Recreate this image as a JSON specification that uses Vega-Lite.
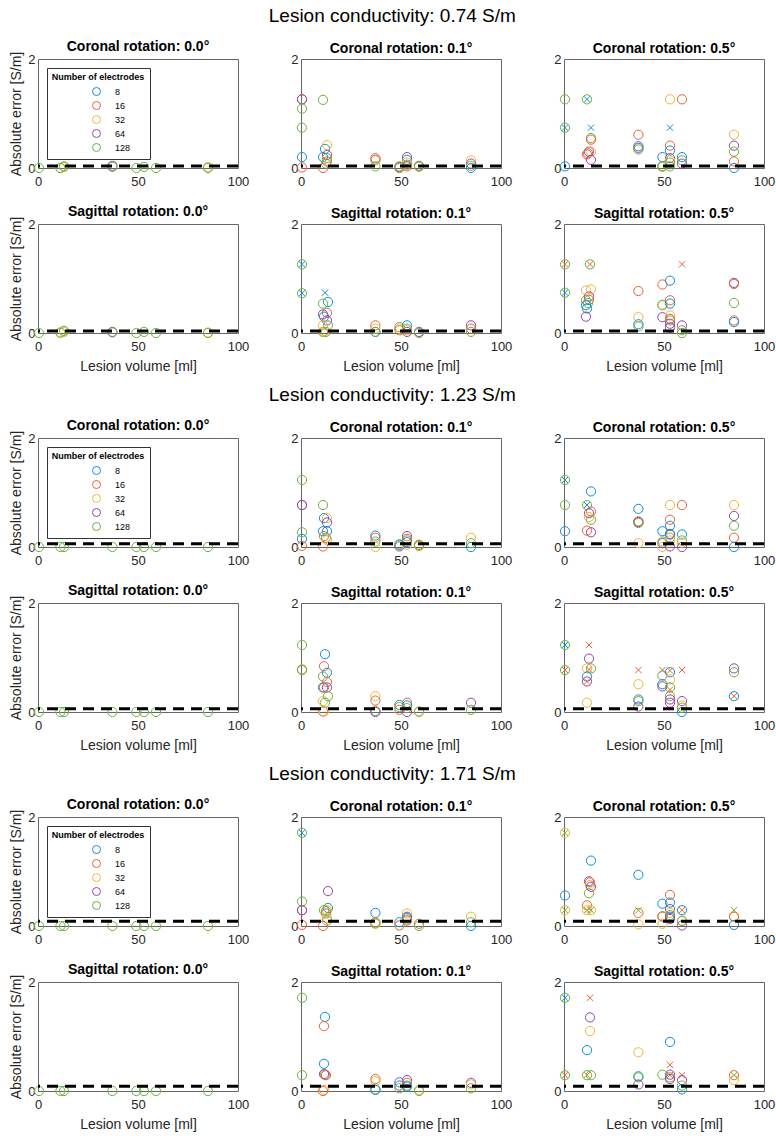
{
"$schema":"https://vega.github.io/schema/vega-lite/v6.json",
"padding":{"left":9,"top":6,"right":2,"bottom":2},
"background":"white",
"datasets":{
"t":[{"s":1,"e":0.037},{"s":2,"e":0.0615},{"s":3,"e":0.0855}],
"d":[
{"p":"1C0","n":32,"v":11.2,"e":0.0},{"p":"1C0","n":32,"v":13,"e":0.02},{"p":"1C0","n":64,"v":37.2,"e":0.04},{"p":"1C0","n":32,"v":85,"e":0.02},
{"p":"1C0","n":128,"v":0.5,"e":0.0},{"p":"1C0","n":128,"v":11.2,"e":0.0},{"p":"1C0","n":128,"v":13,"e":0.03},{"p":"1C0","n":128,"v":37.2,"e":0.02},{"p":"1C0","n":128,"v":49.2,"e":0.0},{"p":"1C0","n":128,"v":53,"e":0.02},{"p":"1C0","n":128,"v":59,"e":0.0},{"p":"1C0","n":128,"v":85,"e":0.0},
{"p":"1S0","n":32,"v":11.2,"e":0.0},{"p":"1S0","n":32,"v":13,"e":0.02},{"p":"1S0","n":64,"v":37.2,"e":0.02},{"p":"1S0","n":32,"v":85,"e":0.01},
{"p":"1S0","n":128,"v":0.5,"e":0.0},{"p":"1S0","n":128,"v":11.2,"e":0.01},{"p":"1S0","n":128,"v":13,"e":0.04},{"p":"1S0","n":128,"v":37.2,"e":0.01},{"p":"1S0","n":128,"v":49.2,"e":0.0},{"p":"1S0","n":128,"v":53,"e":0.02},{"p":"1S0","n":128,"v":59,"e":0.0},{"p":"1S0","n":128,"v":85,"e":0.0},
{"p":"1C1","n":16,"v":0.5,"e":1.26},{"p":"1C1","n":64,"v":0.5,"e":1.26},{"p":"1C1","n":128,"v":0.5,"e":1.09},{"p":"1C1","n":128,"v":0.4,"e":0.74},{"p":"1C1","n":8,"v":0.5,"e":0.2},{"p":"1C1","n":16,"v":0.5,"e":0.01},
{"p":"1C1","n":128,"v":11,"e":1.25},{"p":"1C1","n":8,"v":11,"e":0.2},{"p":"1C1","n":16,"v":11,"e":0.0},{"p":"1C1","n":8,"v":12,"e":0.35},{"p":"1C1","n":64,"v":13,"e":0.24},{"p":"1C1","n":32,"v":13,"e":0.42},{"p":"1C1","n":128,"v":13,"e":0.18},{"p":"1C1","n":16,"v":13,"e":0.12},{"p":"1C1","n":128,"v":12.5,"e":0.08},
{"p":"1C1","n":16,"v":37.2,"e":0.18},{"p":"1C1","n":64,"v":37.2,"e":0.15},{"p":"1C1","n":32,"v":37.2,"e":0.14},{"p":"1C1","n":128,"v":37.2,"e":0.03},
{"p":"1C1","n":8,"v":49.2,"e":0.02},{"p":"1C1","n":128,"v":49.2,"e":0.03},{"p":"1C1","n":16,"v":49.2,"e":0.0},
{"p":"1C1","n":64,"v":53,"e":0.2},{"p":"1C1","n":8,"v":53,"e":0.15},{"p":"1C1","n":32,"v":53,"e":0.1},{"p":"1C1","n":128,"v":53,"e":0.06},{"p":"1C1","n":16,"v":53,"e":0.03},
{"p":"1C1","n":64,"v":59,"e":0.04},{"p":"1C1","n":32,"v":59,"e":0.02},{"p":"1C1","n":128,"v":59,"e":0.03},
{"p":"1C1","n":32,"v":85,"e":0.14},{"p":"1C1","n":64,"v":85,"e":0.08},{"p":"1C1","n":128,"v":85,"e":0.04},{"p":"1C1","n":8,"v":85,"e":0.0},
{"p":"1C5","n":128,"v":0.5,"e":1.26},{"p":"1C5","n":128,"v":0.5,"e":0.74},{"p":"1C5","n":8,"v":0.5,"e":0.74,"m":"x"},{"p":"1C5","n":8,"v":0.5,"e":0.03},
{"p":"1C5","n":128,"v":11.5,"e":1.26},{"p":"1C5","n":8,"v":11.5,"e":1.26,"m":"x"},{"p":"1C5","n":16,"v":11.5,"e":0.25},{"p":"1C5","n":16,"v":12,"e":0.27},{"p":"1C5","n":64,"v":12.5,"e":0.3},
{"p":"1C5","n":8,"v":13.5,"e":0.74,"m":"x"},{"p":"1C5","n":32,"v":13.5,"e":0.3},{"p":"1C5","n":128,"v":13.5,"e":0.55},{"p":"1C5","n":16,"v":13.5,"e":0.52},{"p":"1C5","n":64,"v":13.5,"e":0.15},
{"p":"1C5","n":16,"v":37.2,"e":0.61},{"p":"1C5","n":8,"v":37.2,"e":0.4},{"p":"1C5","n":64,"v":37.2,"e":0.37},{"p":"1C5","n":128,"v":37.2,"e":0.34},
{"p":"1C5","n":8,"v":49.2,"e":0.2},{"p":"1C5","n":64,"v":49.2,"e":0.03},{"p":"1C5","n":32,"v":49.2,"e":0.02},{"p":"1C5","n":128,"v":49.2,"e":0.03},
{"p":"1C5","n":32,"v":53,"e":1.26},{"p":"1C5","n":8,"v":53,"e":0.74,"m":"x"},{"p":"1C5","n":16,"v":53,"e":0.41},{"p":"1C5","n":8,"v":53,"e":0.32},{"p":"1C5","n":64,"v":53,"e":0.18},{"p":"1C5","n":32,"v":53,"e":0.14},{"p":"1C5","n":128,"v":53,"e":0.1},{"p":"1C5","n":128,"v":53,"e":0.03},
{"p":"1C5","n":16,"v":59,"e":1.26},{"p":"1C5","n":8,"v":59,"e":0.2},{"p":"1C5","n":128,"v":59,"e":0.14},{"p":"1C5","n":64,"v":59,"e":0.08},
{"p":"1C5","n":32,"v":85,"e":0.61},{"p":"1C5","n":64,"v":85,"e":0.41},{"p":"1C5","n":128,"v":85,"e":0.3},{"p":"1C5","n":16,"v":85,"e":0.12},{"p":"1C5","n":8,"v":85,"e":0.0},
{"p":"1S1","n":128,"v":0.5,"e":1.26},{"p":"1S1","n":8,"v":0.5,"e":1.26,"m":"x"},{"p":"1S1","n":128,"v":0.5,"e":0.73},{"p":"1S1","n":8,"v":0.5,"e":0.73,"m":"x"},
{"p":"1S1","n":8,"v":12,"e":0.74,"m":"x"},{"p":"1S1","n":8,"v":13.5,"e":0.57},{"p":"1S1","n":128,"v":11,"e":0.54},{"p":"1S1","n":16,"v":13,"e":0.37},{"p":"1S1","n":64,"v":11,"e":0.34},{"p":"1S1","n":8,"v":11.5,"e":0.3},{"p":"1S1","n":64,"v":13,"e":0.23},{"p":"1S1","n":32,"v":11,"e":0.14},{"p":"1S1","n":128,"v":13.5,"e":0.14},{"p":"1S1","n":16,"v":11,"e":0.02},{"p":"1S1","n":32,"v":11.5,"e":0.02},{"p":"1S1","n":128,"v":12.5,"e":0.02},
{"p":"1S1","n":16,"v":37.2,"e":0.14},{"p":"1S1","n":32,"v":37.2,"e":0.08},{"p":"1S1","n":8,"v":37.2,"e":0.02},{"p":"1S1","n":128,"v":37.2,"e":0.02},
{"p":"1S1","n":128,"v":49.2,"e":0.11},{"p":"1S1","n":32,"v":49.2,"e":0.08},{"p":"1S1","n":16,"v":49.2,"e":0.05},
{"p":"1S1","n":8,"v":53,"e":0.14},{"p":"1S1","n":128,"v":53,"e":0.08},{"p":"1S1","n":32,"v":53,"e":0.05},{"p":"1S1","n":64,"v":53,"e":0.02},
{"p":"1S1","n":64,"v":59,"e":0.02},{"p":"1S1","n":128,"v":59,"e":0.0},
{"p":"1S1","n":64,"v":85,"e":0.14},{"p":"1S1","n":16,"v":85,"e":0.08},{"p":"1S1","n":128,"v":85,"e":0.02},
{"p":"1S5","n":128,"v":0.5,"e":1.26},{"p":"1S5","n":16,"v":0.5,"e":1.26,"m":"x"},{"p":"1S5","n":128,"v":0.5,"e":0.74},{"p":"1S5","n":8,"v":0.5,"e":0.74,"m":"x"},
{"p":"1S5","n":128,"v":13,"e":1.26},{"p":"1S5","n":16,"v":13,"e":1.26,"m":"x"},{"p":"1S5","n":32,"v":11,"e":0.78},{"p":"1S5","n":32,"v":13.5,"e":0.8},{"p":"1S5","n":64,"v":12.5,"e":0.67},{"p":"1S5","n":16,"v":12.5,"e":0.61},{"p":"1S5","n":128,"v":11,"e":0.6},{"p":"1S5","n":128,"v":12,"e":0.55},{"p":"1S5","n":8,"v":11,"e":0.51},{"p":"1S5","n":8,"v":11.5,"e":0.45},{"p":"1S5","n":64,"v":11,"e":0.3},
{"p":"1S5","n":16,"v":37.2,"e":0.77},{"p":"1S5","n":32,"v":37.2,"e":0.29},{"p":"1S5","n":8,"v":37.2,"e":0.16},{"p":"1S5","n":128,"v":37.2,"e":0.12},
{"p":"1S5","n":16,"v":49.2,"e":0.89},{"p":"1S5","n":32,"v":49.2,"e":0.52},{"p":"1S5","n":128,"v":49.2,"e":0.51},{"p":"1S5","n":64,"v":49.2,"e":0.29},
{"p":"1S5","n":8,"v":53,"e":0.96},{"p":"1S5","n":16,"v":53,"e":0.6},{"p":"1S5","n":8,"v":53,"e":0.54},{"p":"1S5","n":32,"v":53,"e":0.32},{"p":"1S5","n":16,"v":53,"e":0.26},{"p":"1S5","n":128,"v":53,"e":0.23},{"p":"1S5","n":64,"v":53,"e":0.17},{"p":"1S5","n":64,"v":53,"e":0.1},
{"p":"1S5","n":16,"v":59,"e":1.26,"m":"x"},{"p":"1S5","n":64,"v":59,"e":0.14},{"p":"1S5","n":128,"v":59,"e":0.05},{"p":"1S5","n":128,"v":59,"e":0.0},
{"p":"1S5","n":64,"v":85,"e":0.92},{"p":"1S5","n":16,"v":85,"e":0.9},{"p":"1S5","n":128,"v":85,"e":0.55},{"p":"1S5","n":16,"v":85,"e":0.23},{"p":"1S5","n":8,"v":85,"e":0.2},
{"p":"2C0","n":128,"v":0.5,"e":0.0},{"p":"2C0","n":128,"v":11.2,"e":0.0},{"p":"2C0","n":128,"v":13,"e":0.0},{"p":"2C0","n":128,"v":37.2,"e":0.0},{"p":"2C0","n":128,"v":49.2,"e":0.0},{"p":"2C0","n":128,"v":53,"e":0.0},{"p":"2C0","n":128,"v":59,"e":0.0},{"p":"2C0","n":128,"v":85,"e":0.0},
{"p":"2S0","n":128,"v":0.5,"e":0.0},{"p":"2S0","n":128,"v":11.2,"e":0.0},{"p":"2S0","n":128,"v":13,"e":0.0},{"p":"2S0","n":128,"v":37.2,"e":0.0},{"p":"2S0","n":128,"v":49.2,"e":0.0},{"p":"2S0","n":128,"v":53,"e":0.0},{"p":"2S0","n":128,"v":59,"e":0.0},{"p":"2S0","n":128,"v":85,"e":0.0},
{"p":"2C1","n":128,"v":0.5,"e":1.23},{"p":"2C1","n":16,"v":0.5,"e":0.77},{"p":"2C1","n":64,"v":0.5,"e":0.77},{"p":"2C1","n":128,"v":0.5,"e":0.27},{"p":"2C1","n":8,"v":0.5,"e":0.15},{"p":"2C1","n":16,"v":0.5,"e":0.02},
{"p":"2C1","n":128,"v":11,"e":0.77},{"p":"2C1","n":8,"v":11.5,"e":0.53},{"p":"2C1","n":32,"v":13,"e":0.53},{"p":"2C1","n":64,"v":13,"e":0.45},{"p":"2C1","n":8,"v":11,"e":0.29},{"p":"2C1","n":8,"v":13,"e":0.29},{"p":"2C1","n":16,"v":11.5,"e":0.2},{"p":"2C1","n":128,"v":12.5,"e":0.17},{"p":"2C1","n":32,"v":13,"e":0.13},{"p":"2C1","n":16,"v":11,"e":0.01},
{"p":"2C1","n":8,"v":37.2,"e":0.21},{"p":"2C1","n":16,"v":37.2,"e":0.17},{"p":"2C1","n":128,"v":37.2,"e":0.1},{"p":"2C1","n":32,"v":37.2,"e":0.0},
{"p":"2C1","n":8,"v":49.2,"e":0.04},{"p":"2C1","n":64,"v":49.2,"e":0.01},{"p":"2C1","n":128,"v":49.2,"e":0.05},
{"p":"2C1","n":64,"v":53,"e":0.2},{"p":"2C1","n":16,"v":53,"e":0.15},{"p":"2C1","n":128,"v":53,"e":0.12},{"p":"2C1","n":8,"v":53,"e":0.09},{"p":"2C1","n":32,"v":53,"e":0.04},
{"p":"2C1","n":32,"v":59,"e":0.04},{"p":"2C1","n":16,"v":59,"e":0.04},{"p":"2C1","n":128,"v":59,"e":0.02},
{"p":"2C1","n":32,"v":85,"e":0.17},{"p":"2C1","n":128,"v":85,"e":0.07},{"p":"2C1","n":8,"v":85,"e":0.0},
{"p":"2C5","n":128,"v":0.5,"e":1.23},{"p":"2C5","n":8,"v":0.5,"e":1.23,"m":"x"},{"p":"2C5","n":128,"v":0.5,"e":0.77},{"p":"2C5","n":8,"v":0.5,"e":0.29},
{"p":"2C5","n":8,"v":13.5,"e":1.02},{"p":"2C5","n":128,"v":11.5,"e":0.77},{"p":"2C5","n":8,"v":11.5,"e":0.77,"m":"x"},{"p":"2C5","n":64,"v":12.5,"e":0.62},{"p":"2C5","n":16,"v":13.5,"e":0.65},{"p":"2C5","n":32,"v":12.5,"e":0.55},{"p":"2C5","n":128,"v":13.5,"e":0.5},{"p":"2C5","n":16,"v":11.5,"e":0.3},{"p":"2C5","n":64,"v":13.5,"e":0.27},
{"p":"2C5","n":8,"v":37.2,"e":0.7},{"p":"2C5","n":16,"v":37.2,"e":0.47},{"p":"2C5","n":64,"v":37.2,"e":0.46},{"p":"2C5","n":128,"v":37.2,"e":0.44},{"p":"2C5","n":32,"v":37.2,"e":0.07},
{"p":"2C5","n":8,"v":49.2,"e":0.29},{"p":"2C5","n":64,"v":49.2,"e":0.07},{"p":"2C5","n":128,"v":49.2,"e":0.1},{"p":"2C5","n":32,"v":49.2,"e":0.0},
{"p":"2C5","n":32,"v":53,"e":0.77},{"p":"2C5","n":16,"v":53,"e":0.5},{"p":"2C5","n":8,"v":53,"e":0.39},{"p":"2C5","n":8,"v":53,"e":0.24},{"p":"2C5","n":64,"v":53,"e":0.23},{"p":"2C5","n":128,"v":53,"e":0.17},{"p":"2C5","n":32,"v":53,"e":0.12},{"p":"2C5","n":64,"v":53,"e":0.01},
{"p":"2C5","n":16,"v":59,"e":0.77},{"p":"2C5","n":8,"v":59,"e":0.23},{"p":"2C5","n":128,"v":59,"e":0.12},{"p":"2C5","n":32,"v":59,"e":0.08},{"p":"2C5","n":64,"v":59,"e":0.0},
{"p":"2C5","n":32,"v":85,"e":0.77},{"p":"2C5","n":64,"v":85,"e":0.57},{"p":"2C5","n":128,"v":85,"e":0.39},{"p":"2C5","n":16,"v":85,"e":0.17},{"p":"2C5","n":8,"v":85,"e":0.0},
{"p":"2S1","n":128,"v":0.5,"e":1.23},{"p":"2S1","n":16,"v":0.5,"e":0.77},{"p":"2S1","n":128,"v":0.5,"e":0.78},
{"p":"2S1","n":8,"v":12,"e":1.06},{"p":"2S1","n":16,"v":11.5,"e":0.84},{"p":"2S1","n":8,"v":13,"e":0.72},{"p":"2S1","n":128,"v":11,"e":0.65},{"p":"2S1","n":16,"v":13,"e":0.55},{"p":"2S1","n":8,"v":11,"e":0.45},{"p":"2S1","n":64,"v":13,"e":0.45},{"p":"2S1","n":16,"v":11.5,"e":0.45},{"p":"2S1","n":128,"v":13.5,"e":0.29},{"p":"2S1","n":32,"v":11,"e":0.2},{"p":"2S1","n":128,"v":12,"e":0.17},{"p":"2S1","n":16,"v":11,"e":0.01},{"p":"2S1","n":32,"v":11.5,"e":0.01},
{"p":"2S1","n":32,"v":37.2,"e":0.29},{"p":"2S1","n":16,"v":37.2,"e":0.21},{"p":"2S1","n":128,"v":37.2,"e":0.02},{"p":"2S1","n":64,"v":37.2,"e":0.0},
{"p":"2S1","n":8,"v":49.2,"e":0.13},{"p":"2S1","n":128,"v":49.2,"e":0.09},{"p":"2S1","n":16,"v":49.2,"e":0.04},
{"p":"2S1","n":16,"v":53,"e":0.17},{"p":"2S1","n":8,"v":53,"e":0.12},{"p":"2S1","n":128,"v":53,"e":0.07},{"p":"2S1","n":64,"v":53,"e":0.0},
{"p":"2S1","n":32,"v":59,"e":0.0},{"p":"2S1","n":128,"v":59,"e":0.01},
{"p":"2S1","n":64,"v":85,"e":0.17},{"p":"2S1","n":128,"v":85,"e":0.04},
{"p":"2S5","n":128,"v":0.5,"e":1.23},{"p":"2S5","n":8,"v":0.5,"e":1.23,"m":"x"},{"p":"2S5","n":128,"v":0.5,"e":0.77},{"p":"2S5","n":16,"v":0.5,"e":0.77,"m":"x"},
{"p":"2S5","n":16,"v":12.5,"e":1.23,"m":"x"},{"p":"2S5","n":64,"v":12.5,"e":0.98},{"p":"2S5","n":128,"v":13.5,"e":0.8},{"p":"2S5","n":32,"v":11.5,"e":0.8},{"p":"2S5","n":16,"v":12.5,"e":0.78,"m":"x"},{"p":"2S5","n":8,"v":11.5,"e":0.65},{"p":"2S5","n":64,"v":11.5,"e":0.56},{"p":"2S5","n":16,"v":11.5,"e":0.56,"m":"x"},{"p":"2S5","n":32,"v":11.5,"e":0.17},
{"p":"2S5","n":16,"v":37.2,"e":0.77,"m":"x"},{"p":"2S5","n":32,"v":37.2,"e":0.51},{"p":"2S5","n":8,"v":37.2,"e":0.23},{"p":"2S5","n":128,"v":37.2,"e":0.2},{"p":"2S5","n":64,"v":37.2,"e":0.1},
{"p":"2S5","n":16,"v":49.2,"e":0.77,"m":"x"},{"p":"2S5","n":128,"v":49.2,"e":0.67},{"p":"2S5","n":8,"v":49.2,"e":0.51},{"p":"2S5","n":64,"v":49.2,"e":0.47},
{"p":"2S5","n":8,"v":53,"e":0.73},{"p":"2S5","n":16,"v":53,"e":0.76,"m":"x"},{"p":"2S5","n":32,"v":53,"e":0.6},{"p":"2S5","n":128,"v":53,"e":0.45},{"p":"2S5","n":16,"v":53,"e":0.41,"m":"x"},{"p":"2S5","n":128,"v":53,"e":0.29},{"p":"2S5","n":64,"v":53,"e":0.23},{"p":"2S5","n":64,"v":53,"e":0.17},
{"p":"2S5","n":16,"v":59,"e":0.77,"m":"x"},{"p":"2S5","n":64,"v":59,"e":0.2},{"p":"2S5","n":32,"v":59,"e":0.12},{"p":"2S5","n":128,"v":59,"e":0.08},{"p":"2S5","n":8,"v":59,"e":0.0},
{"p":"2S5","n":64,"v":85,"e":0.8},{"p":"2S5","n":128,"v":85,"e":0.73},{"p":"2S5","n":8,"v":85,"e":0.29},{"p":"2S5","n":16,"v":85,"e":0.29,"m":"x"},
{"p":"3C0","n":128,"v":0.5,"e":0.0},{"p":"3C0","n":128,"v":11.2,"e":0.0},{"p":"3C0","n":128,"v":13,"e":0.0},{"p":"3C0","n":128,"v":37.2,"e":0.0},{"p":"3C0","n":128,"v":49.2,"e":0.0},{"p":"3C0","n":128,"v":53,"e":0.0},{"p":"3C0","n":128,"v":59,"e":0.0},{"p":"3C0","n":128,"v":85,"e":0.0},
{"p":"3S0","n":128,"v":0.5,"e":0.0},{"p":"3S0","n":128,"v":11.2,"e":0.0},{"p":"3S0","n":128,"v":13,"e":0.0},{"p":"3S0","n":128,"v":37.2,"e":0.0},{"p":"3S0","n":128,"v":49.2,"e":0.0},{"p":"3S0","n":128,"v":53,"e":0.0},{"p":"3S0","n":128,"v":59,"e":0.0},{"p":"3S0","n":128,"v":85,"e":0.0},
{"p":"3C1","n":128,"v":0.5,"e":1.71},{"p":"3C1","n":8,"v":0.5,"e":1.71,"m":"x"},{"p":"3C1","n":128,"v":0.5,"e":0.45},{"p":"3C1","n":16,"v":0.5,"e":0.29},{"p":"3C1","n":64,"v":0.5,"e":0.29},{"p":"3C1","n":16,"v":0.5,"e":0.02},
{"p":"3C1","n":64,"v":13.5,"e":0.64},{"p":"3C1","n":8,"v":13.5,"e":0.33},{"p":"3C1","n":32,"v":13,"e":0.29},{"p":"3C1","n":128,"v":11.5,"e":0.29},{"p":"3C1","n":128,"v":12.5,"e":0.27},{"p":"3C1","n":16,"v":12.5,"e":0.23},{"p":"3C1","n":32,"v":13,"e":0.15},{"p":"3C1","n":128,"v":13,"e":0.1},{"p":"3C1","n":16,"v":11,"e":0.0},
{"p":"3C1","n":8,"v":37.2,"e":0.24},{"p":"3C1","n":16,"v":37.2,"e":0.07},{"p":"3C1","n":32,"v":37.2,"e":0.04},{"p":"3C1","n":128,"v":37.2,"e":0.05},
{"p":"3C1","n":8,"v":49.2,"e":0.07},{"p":"3C1","n":64,"v":49.2,"e":0.01},{"p":"3C1","n":32,"v":49.2,"e":0.02},
{"p":"3C1","n":32,"v":53,"e":0.23},{"p":"3C1","n":64,"v":53,"e":0.17},{"p":"3C1","n":8,"v":53,"e":0.15},{"p":"3C1","n":128,"v":53,"e":0.12},{"p":"3C1","n":16,"v":53,"e":0.1},
{"p":"3C1","n":16,"v":59,"e":0.04},{"p":"3C1","n":128,"v":59,"e":0.0},
{"p":"3C1","n":32,"v":85,"e":0.17},{"p":"3C1","n":128,"v":85,"e":0.07},{"p":"3C1","n":8,"v":85,"e":0.0},
{"p":"3C5","n":32,"v":0.5,"e":1.71},{"p":"3C5","n":128,"v":0.5,"e":1.71,"m":"x"},{"p":"3C5","n":8,"v":0.5,"e":0.56},{"p":"3C5","n":32,"v":0.5,"e":0.29},{"p":"3C5","n":128,"v":0.5,"e":0.29,"m":"x"},
{"p":"3C5","n":8,"v":13.5,"e":1.2},{"p":"3C5","n":64,"v":12.5,"e":0.82},{"p":"3C5","n":16,"v":13,"e":0.8},{"p":"3C5","n":32,"v":13,"e":0.75},{"p":"3C5","n":64,"v":13.5,"e":0.72},{"p":"3C5","n":128,"v":12.5,"e":0.6},{"p":"3C5","n":16,"v":11.5,"e":0.38},{"p":"3C5","n":32,"v":11.5,"e":0.29},{"p":"3C5","n":128,"v":11.5,"e":0.29,"m":"x"},{"p":"3C5","n":32,"v":13.5,"e":0.29},{"p":"3C5","n":128,"v":13.5,"e":0.29,"m":"x"},
{"p":"3C5","n":8,"v":37.2,"e":0.94},{"p":"3C5","n":16,"v":37.2,"e":0.24},{"p":"3C5","n":128,"v":37.2,"e":0.29,"m":"x"},{"p":"3C5","n":32,"v":37.2,"e":0.03},
{"p":"3C5","n":8,"v":49.2,"e":0.41},{"p":"3C5","n":128,"v":49.2,"e":0.18},{"p":"3C5","n":16,"v":49.2,"e":0.17},{"p":"3C5","n":32,"v":49.2,"e":0.04},
{"p":"3C5","n":16,"v":53,"e":0.57},{"p":"3C5","n":8,"v":53,"e":0.43},{"p":"3C5","n":64,"v":53,"e":0.31},{"p":"3C5","n":32,"v":53,"e":0.24},{"p":"3C5","n":128,"v":53,"e":0.2},{"p":"3C5","n":8,"v":53,"e":0.17},{"p":"3C5","n":64,"v":53,"e":0.13},
{"p":"3C5","n":8,"v":59,"e":0.29},{"p":"3C5","n":16,"v":59,"e":0.29,"m":"x"},{"p":"3C5","n":32,"v":59,"e":0.1},{"p":"3C5","n":128,"v":59,"e":0.09},{"p":"3C5","n":64,"v":59,"e":0.01},
{"p":"3C5","n":128,"v":85,"e":0.29,"m":"x"},{"p":"3C5","n":32,"v":85,"e":0.18},{"p":"3C5","n":16,"v":85,"e":0.17},{"p":"3C5","n":8,"v":85,"e":0.02},
{"p":"3S1","n":128,"v":0.5,"e":1.71},{"p":"3S1","n":128,"v":0.5,"e":0.29},
{"p":"3S1","n":8,"v":12,"e":1.36},{"p":"3S1","n":16,"v":11.5,"e":1.19},{"p":"3S1","n":8,"v":11.5,"e":0.5},{"p":"3S1","n":128,"v":12,"e":0.3},{"p":"3S1","n":64,"v":11.5,"e":0.31},{"p":"3S1","n":16,"v":12.5,"e":0.29},{"p":"3S1","n":32,"v":11.5,"e":0.02},{"p":"3S1","n":16,"v":11,"e":0.0},
{"p":"3S1","n":16,"v":37.2,"e":0.22},{"p":"3S1","n":32,"v":37.2,"e":0.18},{"p":"3S1","n":128,"v":37.2,"e":0.03},{"p":"3S1","n":8,"v":37.2,"e":0.02},
{"p":"3S1","n":8,"v":49.2,"e":0.16},{"p":"3S1","n":64,"v":49.2,"e":0.1},{"p":"3S1","n":128,"v":49.2,"e":0.05},
{"p":"3S1","n":64,"v":53,"e":0.2},{"p":"3S1","n":16,"v":53,"e":0.15},{"p":"3S1","n":128,"v":53,"e":0.1},{"p":"3S1","n":8,"v":53,"e":0.08},
{"p":"3S1","n":32,"v":59,"e":0.02},{"p":"3S1","n":128,"v":59,"e":0.0},
{"p":"3S1","n":64,"v":85,"e":0.15},{"p":"3S1","n":32,"v":85,"e":0.12},{"p":"3S1","n":128,"v":85,"e":0.05},
{"p":"3S5","n":128,"v":0.5,"e":1.71},{"p":"3S5","n":8,"v":0.5,"e":1.71,"m":"x"},{"p":"3S5","n":128,"v":0.5,"e":0.29},{"p":"3S5","n":16,"v":0.5,"e":0.29,"m":"x"},
{"p":"3S5","n":16,"v":13,"e":1.71,"m":"x"},{"p":"3S5","n":64,"v":13,"e":1.35},{"p":"3S5","n":32,"v":13,"e":1.1},{"p":"3S5","n":8,"v":11.5,"e":0.75},{"p":"3S5","n":128,"v":11.5,"e":0.29},{"p":"3S5","n":16,"v":11.5,"e":0.29,"m":"x"},{"p":"3S5","n":128,"v":13.5,"e":0.29},
{"p":"3S5","n":32,"v":37.2,"e":0.71},{"p":"3S5","n":8,"v":37.2,"e":0.27},{"p":"3S5","n":128,"v":37.2,"e":0.25},{"p":"3S5","n":64,"v":37.2,"e":0.12},
{"p":"3S5","n":128,"v":49.2,"e":0.3},
{"p":"3S5","n":8,"v":53,"e":0.9},{"p":"3S5","n":16,"v":53,"e":0.48,"m":"x"},{"p":"3S5","n":64,"v":53,"e":0.3},{"p":"3S5","n":16,"v":53,"e":0.29,"m":"x"},{"p":"3S5","n":128,"v":53,"e":0.25},{"p":"3S5","n":64,"v":53,"e":0.22},
{"p":"3S5","n":16,"v":59,"e":0.29,"m":"x"},{"p":"3S5","n":64,"v":59,"e":0.2},{"p":"3S5","n":128,"v":59,"e":0.1},{"p":"3S5","n":8,"v":59,"e":0.03},
{"p":"3S5","n":16,"v":85,"e":0.29},{"p":"3S5","n":128,"v":85,"e":0.29,"m":"x"},{"p":"3S5","n":32,"v":85,"e":0.2}
]},
"spacing":11,
"resolve":{"scale":{"color":"independent"}},
"vconcat":[
{"title":{"text":"Lesion conductivity: 0.74 S/m","fontSize":19,"fontWeight":"normal","anchor":"middle","offset":14},"spacing":15,"resolve":{"scale":{"color":"independent"}},
"vconcat":[
{"hconcat":[
{"title":"Coronal rotation: 0.0°","width":200,"height":109,"layer":[{"data":{"name":"d"},"transform":[{"filter":"datum.p=='1C0'"}],"mark":"point","encoding":{"x":{"field":"v","type":"quantitative","scale":{"domain":[0,100]},"axis":{"values":[0,50,100],"title":null}},"y":{"field":"e","type":"quantitative","scale":{"domain":[0,2]},"axis":{"values":[0,1,2],"format":"d","title":"Absolute error [S/m]"}},"color":{"field":"n","type":"nominal","scale":{"domain":[8,16,32,64,128]},"legend":{"title":"Number of electrodes"}},"shape":{"condition":{"test":"datum.m=='x'","value":"M-1,-1L1,1M-1,1L1,-1"},"value":"circle"},"size":{"condition":{"test":"datum.m=='x'","value":40},"value":85}}},{"data":{"name":"t"},"transform":[{"filter":"datum.s==1"}],"mark":"rule","encoding":{"y":{"field":"e","type":"quantitative"}}}]},
{"title":"Coronal rotation: 0.1°","width":200,"height":109,"layer":[{"data":{"name":"d"},"transform":[{"filter":"datum.p=='1C1'"}],"mark":"point","encoding":{"x":{"field":"v","type":"quantitative","scale":{"domain":[0,100]},"axis":{"values":[0,50,100],"title":null}},"y":{"field":"e","type":"quantitative","scale":{"domain":[0,2]},"axis":{"values":[0,1,2],"format":"d","title":null}},"color":{"field":"n","type":"nominal","scale":{"domain":[8,16,32,64,128]},"legend":null},"shape":{"condition":{"test":"datum.m=='x'","value":"M-1,-1L1,1M-1,1L1,-1"},"value":"circle"},"size":{"condition":{"test":"datum.m=='x'","value":40},"value":85}}},{"data":{"name":"t"},"transform":[{"filter":"datum.s==1"}],"mark":"rule","encoding":{"y":{"field":"e","type":"quantitative"}}}]},
{"title":"Coronal rotation: 0.5°","width":200,"height":109,"layer":[{"data":{"name":"d"},"transform":[{"filter":"datum.p=='1C5'"}],"mark":"point","encoding":{"x":{"field":"v","type":"quantitative","scale":{"domain":[0,100]},"axis":{"values":[0,50,100],"title":null}},"y":{"field":"e","type":"quantitative","scale":{"domain":[0,2]},"axis":{"values":[0,1,2],"format":"d","title":null}},"color":{"field":"n","type":"nominal","scale":{"domain":[8,16,32,64,128]},"legend":null},"shape":{"condition":{"test":"datum.m=='x'","value":"M-1,-1L1,1M-1,1L1,-1"},"value":"circle"},"size":{"condition":{"test":"datum.m=='x'","value":40},"value":85}}},{"data":{"name":"t"},"transform":[{"filter":"datum.s==1"}],"mark":"rule","encoding":{"y":{"field":"e","type":"quantitative"}}}]}
],"spacing":40,"resolve":{"scale":{"color":"independent"}}},
{"hconcat":[
{"title":"Sagittal rotation: 0.0°","width":200,"height":109,"layer":[{"data":{"name":"d"},"transform":[{"filter":"datum.p=='1S0'"}],"mark":"point","encoding":{"x":{"field":"v","type":"quantitative","scale":{"domain":[0,100]},"axis":{"values":[0,50,100],"title":"Lesion volume [ml]"}},"y":{"field":"e","type":"quantitative","scale":{"domain":[0,2]},"axis":{"values":[0,1,2],"format":"d","title":"Absolute error [S/m]"}},"color":{"field":"n","type":"nominal","scale":{"domain":[8,16,32,64,128]},"legend":null},"shape":{"condition":{"test":"datum.m=='x'","value":"M-1,-1L1,1M-1,1L1,-1"},"value":"circle"},"size":{"condition":{"test":"datum.m=='x'","value":40},"value":85}}},{"data":{"name":"t"},"transform":[{"filter":"datum.s==1"}],"mark":"rule","encoding":{"y":{"field":"e","type":"quantitative"}}}]},
{"title":"Sagittal rotation: 0.1°","width":200,"height":109,"layer":[{"data":{"name":"d"},"transform":[{"filter":"datum.p=='1S1'"}],"mark":"point","encoding":{"x":{"field":"v","type":"quantitative","scale":{"domain":[0,100]},"axis":{"values":[0,50,100],"title":"Lesion volume [ml]"}},"y":{"field":"e","type":"quantitative","scale":{"domain":[0,2]},"axis":{"values":[0,1,2],"format":"d","title":null}},"color":{"field":"n","type":"nominal","scale":{"domain":[8,16,32,64,128]},"legend":null},"shape":{"condition":{"test":"datum.m=='x'","value":"M-1,-1L1,1M-1,1L1,-1"},"value":"circle"},"size":{"condition":{"test":"datum.m=='x'","value":40},"value":85}}},{"data":{"name":"t"},"transform":[{"filter":"datum.s==1"}],"mark":"rule","encoding":{"y":{"field":"e","type":"quantitative"}}}]},
{"title":"Sagittal rotation: 0.5°","width":200,"height":109,"layer":[{"data":{"name":"d"},"transform":[{"filter":"datum.p=='1S5'"}],"mark":"point","encoding":{"x":{"field":"v","type":"quantitative","scale":{"domain":[0,100]},"axis":{"values":[0,50,100],"title":"Lesion volume [ml]"}},"y":{"field":"e","type":"quantitative","scale":{"domain":[0,2]},"axis":{"values":[0,1,2],"format":"d","title":null}},"color":{"field":"n","type":"nominal","scale":{"domain":[8,16,32,64,128]},"legend":null},"shape":{"condition":{"test":"datum.m=='x'","value":"M-1,-1L1,1M-1,1L1,-1"},"value":"circle"},"size":{"condition":{"test":"datum.m=='x'","value":40},"value":85}}},{"data":{"name":"t"},"transform":[{"filter":"datum.s==1"}],"mark":"rule","encoding":{"y":{"field":"e","type":"quantitative"}}}]}
],"spacing":40,"resolve":{"scale":{"color":"independent"}}}
]},
{"title":{"text":"Lesion conductivity: 1.23 S/m","fontSize":19,"fontWeight":"normal","anchor":"middle","offset":14},"spacing":15,"resolve":{"scale":{"color":"independent"}},
"vconcat":[
{"hconcat":[
{"title":"Coronal rotation: 0.0°","width":200,"height":109,"layer":[{"data":{"name":"d"},"transform":[{"filter":"datum.p=='2C0'"}],"mark":"point","encoding":{"x":{"field":"v","type":"quantitative","scale":{"domain":[0,100]},"axis":{"values":[0,50,100],"title":null}},"y":{"field":"e","type":"quantitative","scale":{"domain":[0,2]},"axis":{"values":[0,1,2],"format":"d","title":"Absolute error [S/m]"}},"color":{"field":"n","type":"nominal","scale":{"domain":[8,16,32,64,128]},"legend":{"title":"Number of electrodes"}},"shape":{"condition":{"test":"datum.m=='x'","value":"M-1,-1L1,1M-1,1L1,-1"},"value":"circle"},"size":{"condition":{"test":"datum.m=='x'","value":40},"value":85}}},{"data":{"name":"t"},"transform":[{"filter":"datum.s==2"}],"mark":"rule","encoding":{"y":{"field":"e","type":"quantitative"}}}]},
{"title":"Coronal rotation: 0.1°","width":200,"height":109,"layer":[{"data":{"name":"d"},"transform":[{"filter":"datum.p=='2C1'"}],"mark":"point","encoding":{"x":{"field":"v","type":"quantitative","scale":{"domain":[0,100]},"axis":{"values":[0,50,100],"title":null}},"y":{"field":"e","type":"quantitative","scale":{"domain":[0,2]},"axis":{"values":[0,1,2],"format":"d","title":null}},"color":{"field":"n","type":"nominal","scale":{"domain":[8,16,32,64,128]},"legend":null},"shape":{"condition":{"test":"datum.m=='x'","value":"M-1,-1L1,1M-1,1L1,-1"},"value":"circle"},"size":{"condition":{"test":"datum.m=='x'","value":40},"value":85}}},{"data":{"name":"t"},"transform":[{"filter":"datum.s==2"}],"mark":"rule","encoding":{"y":{"field":"e","type":"quantitative"}}}]},
{"title":"Coronal rotation: 0.5°","width":200,"height":109,"layer":[{"data":{"name":"d"},"transform":[{"filter":"datum.p=='2C5'"}],"mark":"point","encoding":{"x":{"field":"v","type":"quantitative","scale":{"domain":[0,100]},"axis":{"values":[0,50,100],"title":null}},"y":{"field":"e","type":"quantitative","scale":{"domain":[0,2]},"axis":{"values":[0,1,2],"format":"d","title":null}},"color":{"field":"n","type":"nominal","scale":{"domain":[8,16,32,64,128]},"legend":null},"shape":{"condition":{"test":"datum.m=='x'","value":"M-1,-1L1,1M-1,1L1,-1"},"value":"circle"},"size":{"condition":{"test":"datum.m=='x'","value":40},"value":85}}},{"data":{"name":"t"},"transform":[{"filter":"datum.s==2"}],"mark":"rule","encoding":{"y":{"field":"e","type":"quantitative"}}}]}
],"spacing":40,"resolve":{"scale":{"color":"independent"}}},
{"hconcat":[
{"title":"Sagittal rotation: 0.0°","width":200,"height":109,"layer":[{"data":{"name":"d"},"transform":[{"filter":"datum.p=='2S0'"}],"mark":"point","encoding":{"x":{"field":"v","type":"quantitative","scale":{"domain":[0,100]},"axis":{"values":[0,50,100],"title":"Lesion volume [ml]"}},"y":{"field":"e","type":"quantitative","scale":{"domain":[0,2]},"axis":{"values":[0,1,2],"format":"d","title":"Absolute error [S/m]"}},"color":{"field":"n","type":"nominal","scale":{"domain":[8,16,32,64,128]},"legend":null},"shape":{"condition":{"test":"datum.m=='x'","value":"M-1,-1L1,1M-1,1L1,-1"},"value":"circle"},"size":{"condition":{"test":"datum.m=='x'","value":40},"value":85}}},{"data":{"name":"t"},"transform":[{"filter":"datum.s==2"}],"mark":"rule","encoding":{"y":{"field":"e","type":"quantitative"}}}]},
{"title":"Sagittal rotation: 0.1°","width":200,"height":109,"layer":[{"data":{"name":"d"},"transform":[{"filter":"datum.p=='2S1'"}],"mark":"point","encoding":{"x":{"field":"v","type":"quantitative","scale":{"domain":[0,100]},"axis":{"values":[0,50,100],"title":"Lesion volume [ml]"}},"y":{"field":"e","type":"quantitative","scale":{"domain":[0,2]},"axis":{"values":[0,1,2],"format":"d","title":null}},"color":{"field":"n","type":"nominal","scale":{"domain":[8,16,32,64,128]},"legend":null},"shape":{"condition":{"test":"datum.m=='x'","value":"M-1,-1L1,1M-1,1L1,-1"},"value":"circle"},"size":{"condition":{"test":"datum.m=='x'","value":40},"value":85}}},{"data":{"name":"t"},"transform":[{"filter":"datum.s==2"}],"mark":"rule","encoding":{"y":{"field":"e","type":"quantitative"}}}]},
{"title":"Sagittal rotation: 0.5°","width":200,"height":109,"layer":[{"data":{"name":"d"},"transform":[{"filter":"datum.p=='2S5'"}],"mark":"point","encoding":{"x":{"field":"v","type":"quantitative","scale":{"domain":[0,100]},"axis":{"values":[0,50,100],"title":"Lesion volume [ml]"}},"y":{"field":"e","type":"quantitative","scale":{"domain":[0,2]},"axis":{"values":[0,1,2],"format":"d","title":null}},"color":{"field":"n","type":"nominal","scale":{"domain":[8,16,32,64,128]},"legend":null},"shape":{"condition":{"test":"datum.m=='x'","value":"M-1,-1L1,1M-1,1L1,-1"},"value":"circle"},"size":{"condition":{"test":"datum.m=='x'","value":40},"value":85}}},{"data":{"name":"t"},"transform":[{"filter":"datum.s==2"}],"mark":"rule","encoding":{"y":{"field":"e","type":"quantitative"}}}]}
],"spacing":40,"resolve":{"scale":{"color":"independent"}}}
]},
{"title":{"text":"Lesion conductivity: 1.71 S/m","fontSize":19,"fontWeight":"normal","anchor":"middle","offset":14},"spacing":15,"resolve":{"scale":{"color":"independent"}},
"vconcat":[
{"hconcat":[
{"title":"Coronal rotation: 0.0°","width":200,"height":109,"layer":[{"data":{"name":"d"},"transform":[{"filter":"datum.p=='3C0'"}],"mark":"point","encoding":{"x":{"field":"v","type":"quantitative","scale":{"domain":[0,100]},"axis":{"values":[0,50,100],"title":null}},"y":{"field":"e","type":"quantitative","scale":{"domain":[0,2]},"axis":{"values":[0,1,2],"format":"d","title":"Absolute error [S/m]"}},"color":{"field":"n","type":"nominal","scale":{"domain":[8,16,32,64,128]},"legend":{"title":"Number of electrodes"}},"shape":{"condition":{"test":"datum.m=='x'","value":"M-1,-1L1,1M-1,1L1,-1"},"value":"circle"},"size":{"condition":{"test":"datum.m=='x'","value":40},"value":85}}},{"data":{"name":"t"},"transform":[{"filter":"datum.s==3"}],"mark":"rule","encoding":{"y":{"field":"e","type":"quantitative"}}}]},
{"title":"Coronal rotation: 0.1°","width":200,"height":109,"layer":[{"data":{"name":"d"},"transform":[{"filter":"datum.p=='3C1'"}],"mark":"point","encoding":{"x":{"field":"v","type":"quantitative","scale":{"domain":[0,100]},"axis":{"values":[0,50,100],"title":null}},"y":{"field":"e","type":"quantitative","scale":{"domain":[0,2]},"axis":{"values":[0,1,2],"format":"d","title":null}},"color":{"field":"n","type":"nominal","scale":{"domain":[8,16,32,64,128]},"legend":null},"shape":{"condition":{"test":"datum.m=='x'","value":"M-1,-1L1,1M-1,1L1,-1"},"value":"circle"},"size":{"condition":{"test":"datum.m=='x'","value":40},"value":85}}},{"data":{"name":"t"},"transform":[{"filter":"datum.s==3"}],"mark":"rule","encoding":{"y":{"field":"e","type":"quantitative"}}}]},
{"title":"Coronal rotation: 0.5°","width":200,"height":109,"layer":[{"data":{"name":"d"},"transform":[{"filter":"datum.p=='3C5'"}],"mark":"point","encoding":{"x":{"field":"v","type":"quantitative","scale":{"domain":[0,100]},"axis":{"values":[0,50,100],"title":null}},"y":{"field":"e","type":"quantitative","scale":{"domain":[0,2]},"axis":{"values":[0,1,2],"format":"d","title":null}},"color":{"field":"n","type":"nominal","scale":{"domain":[8,16,32,64,128]},"legend":null},"shape":{"condition":{"test":"datum.m=='x'","value":"M-1,-1L1,1M-1,1L1,-1"},"value":"circle"},"size":{"condition":{"test":"datum.m=='x'","value":40},"value":85}}},{"data":{"name":"t"},"transform":[{"filter":"datum.s==3"}],"mark":"rule","encoding":{"y":{"field":"e","type":"quantitative"}}}]}
],"spacing":40,"resolve":{"scale":{"color":"independent"}}},
{"hconcat":[
{"title":"Sagittal rotation: 0.0°","width":200,"height":109,"layer":[{"data":{"name":"d"},"transform":[{"filter":"datum.p=='3S0'"}],"mark":"point","encoding":{"x":{"field":"v","type":"quantitative","scale":{"domain":[0,100]},"axis":{"values":[0,50,100],"title":"Lesion volume [ml]"}},"y":{"field":"e","type":"quantitative","scale":{"domain":[0,2]},"axis":{"values":[0,1,2],"format":"d","title":"Absolute error [S/m]"}},"color":{"field":"n","type":"nominal","scale":{"domain":[8,16,32,64,128]},"legend":null},"shape":{"condition":{"test":"datum.m=='x'","value":"M-1,-1L1,1M-1,1L1,-1"},"value":"circle"},"size":{"condition":{"test":"datum.m=='x'","value":40},"value":85}}},{"data":{"name":"t"},"transform":[{"filter":"datum.s==3"}],"mark":"rule","encoding":{"y":{"field":"e","type":"quantitative"}}}]},
{"title":"Sagittal rotation: 0.1°","width":200,"height":109,"layer":[{"data":{"name":"d"},"transform":[{"filter":"datum.p=='3S1'"}],"mark":"point","encoding":{"x":{"field":"v","type":"quantitative","scale":{"domain":[0,100]},"axis":{"values":[0,50,100],"title":"Lesion volume [ml]"}},"y":{"field":"e","type":"quantitative","scale":{"domain":[0,2]},"axis":{"values":[0,1,2],"format":"d","title":null}},"color":{"field":"n","type":"nominal","scale":{"domain":[8,16,32,64,128]},"legend":null},"shape":{"condition":{"test":"datum.m=='x'","value":"M-1,-1L1,1M-1,1L1,-1"},"value":"circle"},"size":{"condition":{"test":"datum.m=='x'","value":40},"value":85}}},{"data":{"name":"t"},"transform":[{"filter":"datum.s==3"}],"mark":"rule","encoding":{"y":{"field":"e","type":"quantitative"}}}]},
{"title":"Sagittal rotation: 0.5°","width":200,"height":109,"layer":[{"data":{"name":"d"},"transform":[{"filter":"datum.p=='3S5'"}],"mark":"point","encoding":{"x":{"field":"v","type":"quantitative","scale":{"domain":[0,100]},"axis":{"values":[0,50,100],"title":"Lesion volume [ml]"}},"y":{"field":"e","type":"quantitative","scale":{"domain":[0,2]},"axis":{"values":[0,1,2],"format":"d","title":null}},"color":{"field":"n","type":"nominal","scale":{"domain":[8,16,32,64,128]},"legend":null},"shape":{"condition":{"test":"datum.m=='x'","value":"M-1,-1L1,1M-1,1L1,-1"},"value":"circle"},"size":{"condition":{"test":"datum.m=='x'","value":40},"value":85}}},{"data":{"name":"t"},"transform":[{"filter":"datum.s==3"}],"mark":"rule","encoding":{"y":{"field":"e","type":"quantitative"}}}]}
],"spacing":40,"resolve":{"scale":{"color":"independent"}}}
]}
],
"config":{
"font":"Liberation Sans",
"view":{"stroke":"#666666","strokeWidth":1},
"axis":{"grid":false,"domain":false,"ticks":false,"labelFontSize":13,"labelColor":"#262626","titleFontSize":14,"titleFontWeight":"normal","titleColor":"#262626","labelPadding":3,"titlePadding":4,"labelFlush":false},
"axisX":{"labelPadding":7,"titlePadding":6},
"title":{"fontSize":14,"fontWeight":"bold","offset":-3,"color":"black","anchor":"middle"},
"point":{"filled":false,"strokeWidth":1,"opacity":1},
"rule":{"strokeDash":[11,7],"strokeWidth":3,"color":"black"},
"range":{"category":["#0E8FD6","#EC6236","#F3B43A","#9944AA","#6AB33C"]},
"legend":{"orient":"top-left","offset":9,"strokeColor":"#333333","fillColor":"white","padding":5,"titleFontSize":9,"titleFontWeight":"bold","titleColor":"black","titleAnchor":"middle","titlePadding":5,"labelFontSize":9,"labelColor":"black","symbolType":"circle","symbolSize":64,"symbolStrokeWidth":1,"symbolOffset":26,"labelOffset":14,"rowPadding":1}
}
}
